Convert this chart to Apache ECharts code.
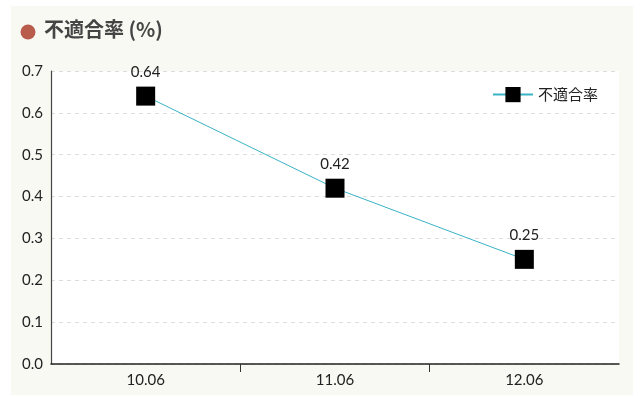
<!DOCTYPE html>
<html>
<head>
<meta charset="utf-8">
<script src="https://cdn.jsdelivr.net/npm/echarts@6/dist/echarts.min.js"></script>
<style>
  html, body { margin: 0; padding: 0; background: #ffffff; }
  #card { position: absolute; left: 11px; top: 6px; width: 622px; height: 389px; background: #f9f9f4; }
  #chart { position: absolute; left: 0; top: 0; width: 633px; height: 397px; }
</style>
</head>
<body>
<div id="card"></div>
<div id="chart"></div>
<script>
// Monthly non-conformity rate
const categories = ['10.06', '11.06', '12.06'];
const rateValues = [0.64, 0.42, 0.25];
const seriesName = '不適合率';
const titleText = '不適合率 (%)';

// Each month occupies one unit band on the x axis; points sit at band centres,
// ticks only at the inner band boundaries.
const bandCentres = categories.map((_, i) => i + 0.5);
const innerBounds = categories.slice(1).map((_, i) => i + 1);
const points = rateValues.map((v, i) => [bandCentres[i], v]);

const chart = echarts.init(document.getElementById('chart'));
const axisFont = 'Lato, "Noto Sans CJK JP", sans-serif';

chart.setOption({
  backgroundColor: 'transparent',
  animation: false,
  graphic: [
    { type: 'circle', shape: { cx: 28, cy: 32, r: 7.5 }, style: { fill: '#b85c4b' } },
    { type: 'text', left: 44, top: 19,
      style: { text: titleText, fill: '#454545', font: 'bold 20px "Noto Sans CJK JP", sans-serif' } }
  ],
  grid: {
    left: 51, right: 14, top: 71, bottom: 33,
    show: true, backgroundColor: '#ffffff', borderWidth: 0
  },
  legend: {
    data: [seriesName],
    right: 30, top: 82,
    itemWidth: 40, itemHeight: 19,
    itemGap: 6,
    textStyle: { fontSize: 15, color: '#222', fontFamily: '"Noto Sans CJK JP", sans-serif' }
  },
  xAxis: {
    type: 'value',
    min: 0, max: categories.length,
    axisLine: { show: true, onZero: false, lineStyle: { color: '#222', width: 1.5 } },
    axisTick: { show: true, length: 8, customValues: innerBounds, lineStyle: { color: '#333' } },
    axisLabel: { fontSize: 15, color: '#222', fontFamily: axisFont, margin: 9,
      customValues: bandCentres,
      formatter: v => categories[Math.floor(v)] },
    splitLine: { show: false }
  },
  yAxis: {
    type: 'value',
    min: 0, max: 0.7, interval: 0.1,
    axisLine: { show: true, lineStyle: { color: '#444', width: 1.2 } },
    axisTick: { show: false },
    axisLabel: { fontSize: 15, color: '#222', fontFamily: axisFont, margin: 8,
      formatter: v => v.toFixed(1) },
    splitLine: { lineStyle: { color: '#dcdcdc', type: [4, 4] } }
  },
  series: [{
    name: seriesName,
    type: 'line',
    data: points,
    symbol: 'rect',
    symbolSize: 19,
    itemStyle: { color: '#000000' },
    lineStyle: { color: '#3ab3c6', width: 1 },
    label: { show: true, position: 'top', distance: 7, fontSize: 15, color: '#222',
      fontFamily: axisFont, formatter: p => p.value[1] }
  }]
});
</script>
</body>
</html>
